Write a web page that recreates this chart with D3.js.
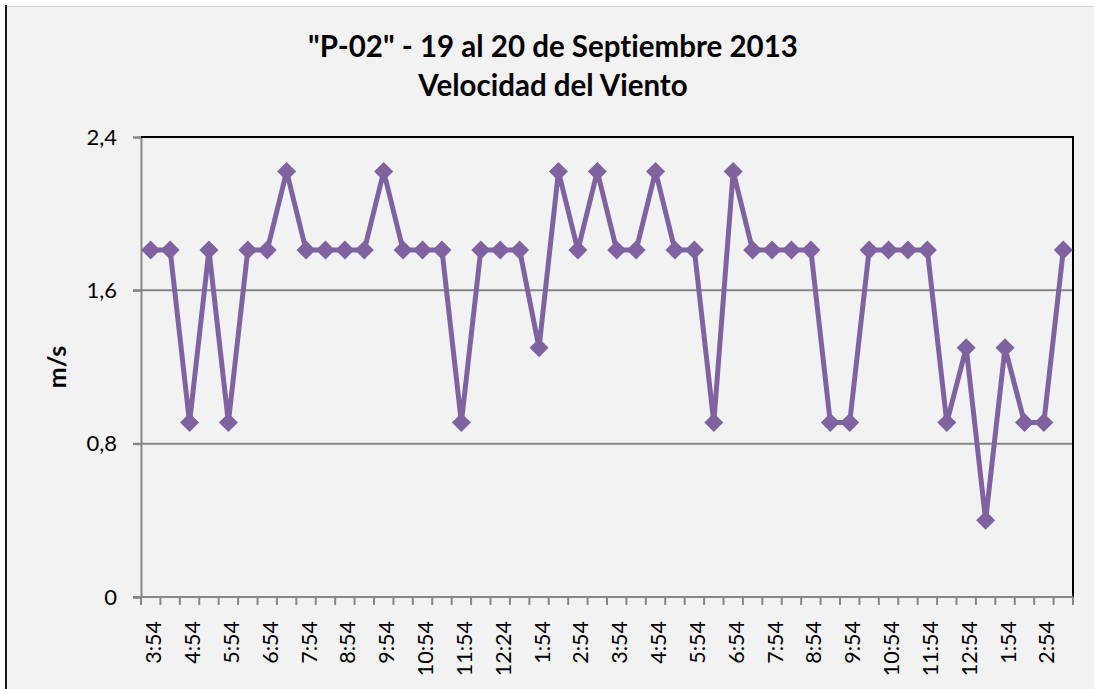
<html>

<head>
    <meta charset="utf-8">
    <title>Velocidad del Viento</title>
    <style>
        body { margin: 0; background: #ffffff; }
        text { font-family: Lato, "Open Sans", sans-serif; fill: #000; font-variant-ligatures: none; }
    </style>
</head>

<body>
    <script src="https://cdn.jsdelivr.net/npm/d3@7"></script>
    <script>
        // horas de medición (cada 30 min aprox.), solo las pares llevan etiqueta
        var horas = ["3:54", "4:24", "4:54", "5:24", "5:54", "6:24", "6:54", "7:24",
            "7:54", "8:24", "8:54", "9:24", "9:54", "10:24", "10:54", "11:24",
            "11:54", "12:09", "12:24", "1:24", "1:54", "2:24", "2:54", "3:24",
            "3:54", "4:24", "4:54", "5:24", "5:54", "6:24", "6:54", "7:24",
            "7:54", "8:24", "8:54", "9:24", "9:54", "10:24", "10:54", "11:24",
            "11:54", "12:24", "12:54", "1:24", "1:54", "2:24", "2:54", "3:24"];
        // velocidad del viento en m/s
        var velocidad = [1.81, 1.81, 0.91, 1.81, 0.91, 1.81, 1.81, 2.22,
            1.81, 1.81, 1.81, 1.81, 2.22, 1.81, 1.81, 1.81,
            0.91, 1.81, 1.81, 1.81, 1.3, 2.22, 1.81, 2.22,
            1.81, 1.81, 2.22, 1.81, 1.81, 0.91, 2.22, 1.81,
            1.81, 1.81, 1.81, 0.91, 0.91, 1.81, 1.81, 1.81,
            1.81, 0.91, 1.3, 0.4, 1.3, 0.91, 0.91, 1.81];
        var yTicks = [0, 0.8, 1.6, 2.4];
        var titulo1 = "\"P-02\" - 19 al 20 de Septiembre 2013";
        var titulo2 = "Velocidad del Viento";
        var yLabel = "m/s";

        var width = 1094, height = 689;
        var color = "#7f63a1";
        var mLeft = 141, mRight = 1073, mTop = 137, mBottom = 597;

        var locale = d3.formatLocale({ decimal: ",", thousands: ".", grouping: [3], currency: ["", ""] });
        var fmt = function (d) { return d === 0 ? "0" : locale.format(".1f")(d); };

        var svg = d3.select("body")
            .append("svg")
            .attr("width", width)
            .attr("height", height);

        // fondo del gráfico
        svg.append("rect").attr("x", 6).attr("y", 6).attr("width", width).attr("height", height)
            .attr("fill", "#f2f2f2");
        svg.append("line").attr("x1", 6).attr("x2", width).attr("y1", 6.5).attr("y2", 6.5)
            .attr("stroke", "#d0d0d0").attr("stroke-width", 1);
        svg.append("line").attr("x1", 6).attr("x2", 6).attr("y1", 5).attr("y2", height)
            .attr("stroke", "#1a1a1a").attr("stroke-width", 2);

        var x = d3.scaleBand().domain(d3.range(horas.length)).range([mLeft, mRight]);
        var y = d3.scaleLinear().domain([0, 2.4]).range([mBottom, mTop]);

        // líneas de división
        svg.selectAll(".grid")
            .data(yTicks.filter(d => d > 0 && d < 2.4))
            .enter().append("line")
            .attr("x1", mLeft - 8).attr("x2", mRight)
            .attr("y1", d => y(d)).attr("y2", d => y(d))
            .attr("stroke", "#868686").attr("stroke-width", 2);

        // eje Y
        var yAxis = svg.append("g")
            .attr("transform", "translate(" + mLeft + ",0)")
            .call(d3.axisLeft(y).tickValues(yTicks).tickFormat(fmt).tickSize(8).tickPadding(16));
        yAxis.select(".domain").attr("stroke", "#868686").attr("stroke-width", 2);
        yAxis.selectAll(".tick line").attr("stroke", "#868686").attr("stroke-width", 2);
        yAxis.selectAll(".tick text").attr("font-size", 22).attr("font-family", "Lato, sans-serif");

        // borde superior y derecho del área de trazado
        svg.append("path")
            .attr("d", "M" + mLeft + "," + mTop + "H" + mRight + "V" + mBottom)
            .attr("fill", "none").attr("stroke", "#000").attr("stroke-width", 2);

        // eje X
        svg.append("line").attr("x1", mLeft - 8).attr("x2", mRight)
            .attr("y1", mBottom).attr("y2", mBottom)
            .attr("stroke", "#868686").attr("stroke-width", 2);
        svg.selectAll(".xtick")
            .data(d3.range(horas.length + 1))
            .enter().append("line")
            .attr("x1", d => mLeft + d * x.step()).attr("x2", d => mLeft + d * x.step())
            .attr("y1", mBottom).attr("y2", mBottom + 8)
            .attr("stroke", "#868686").attr("stroke-width", 2);
        svg.selectAll(".xlabel")
            .data(horas.map((h, i) => ({ h: h, i: i })).filter(d => d.i % 2 === 0))
            .enter().append("text")
            .attr("transform", d => "translate(" + (x(d.i) + x.bandwidth() / 2 + 3) + "," + (mBottom + 24) + ") rotate(-90)")
            .attr("text-anchor", "end")
            .attr("dy", "0.35em")
            .attr("font-size", 21.5)
            .text(d => d.h);

        // serie
        var line = d3.line()
            .x((d, i) => x(i) + x.bandwidth() / 2)
            .y(d => y(d));
        svg.append("path")
            .datum(velocidad)
            .attr("d", line)
            .attr("fill", "none")
            .attr("stroke", color)
            .attr("stroke-width", 5)
            .attr("stroke-linejoin", "round");
        svg.selectAll(".punto")
            .data(velocidad)
            .enter().append("path")
            .attr("d", "M0,-9.5L9.5,0L0,9.5L-9.5,0Z")
            .attr("transform", (d, i) => "translate(" + (x(i) + x.bandwidth() / 2) + "," + y(d) + ")")
            .attr("fill", color);

        // títulos
        svg.append("text").attr("x", 553).attr("y", 57).attr("text-anchor", "middle")
            .attr("font-size", 29.5).attr("font-weight", "bold").text(titulo1);
        svg.append("text").attr("x", 553).attr("y", 96).attr("text-anchor", "middle")
            .attr("font-size", 29.5).attr("font-weight", "bold").text(titulo2);
        svg.append("text")
            .attr("transform", "translate(66," + (mTop + mBottom) / 2 + ") rotate(-90)")
            .attr("text-anchor", "middle")
            .attr("font-size", 25).attr("font-weight", "bold").text(yLabel);
    </script>
</body>

</html>
